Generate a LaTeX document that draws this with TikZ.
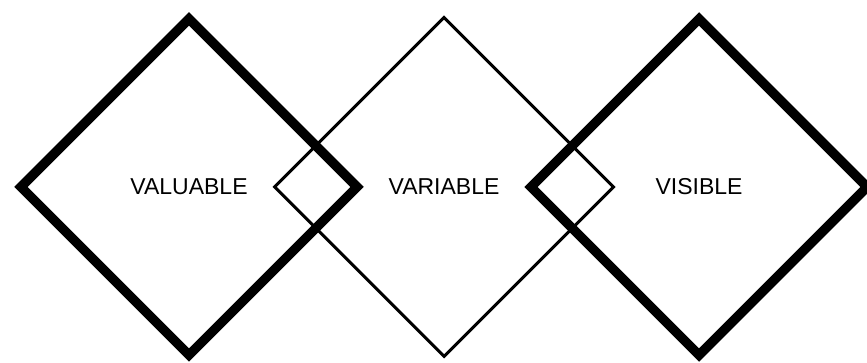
\documentclass[tikz,border=0pt]{standalone}
\usepackage{fontspec}
\setmainfont{Liberation Sans}
\usepackage{tikz}
\usetikzlibrary{shapes.geometric, positioning}

\tikzset{
  vdiamond/.style={diamond, draw=black, aspect=1, inner sep=0pt,
    minimum width=340pt, minimum height=340pt,
    font=\fontsize{23}{27}\selectfont},
  heavy/.style={vdiamond, line width=9.5pt},
  light/.style={vdiamond, line width=3pt}
}

\begin{document}
\begin{tikzpicture}[x=1pt, y=1pt]
    \useasboundingbox (0, 0) rectangle (867, 363);

    % middle diamond (thin)
    \node[light] (variable) at (444, 176) {VARIABLE};

    % outer diamonds (thick)
    \node[heavy] (valuable) at (189, 176) {VALUABLE};
    \node[heavy] (visible) at (699, 176) {VISIBLE};
\end{tikzpicture}
\end{document}
